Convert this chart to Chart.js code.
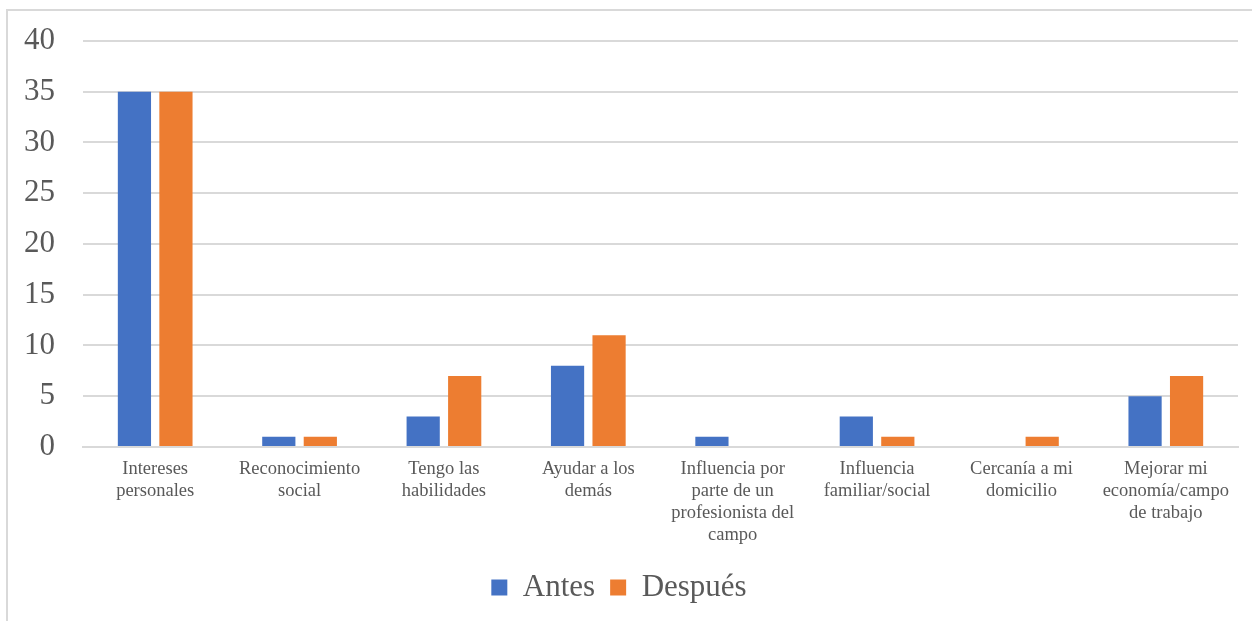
<!DOCTYPE html>
<html>
<head>
<meta charset="utf-8">
<script src="https://cdn.jsdelivr.net/npm/chart.js@4/dist/chart.umd.min.js"></script>
<style>
  html, body { margin: 0; padding: 0; background: #fff; }
  #wrap { position: relative; width: 1252px; height: 621px; overflow: hidden; }
  #frame { position: absolute; left: 6px; top: 9px; width: 1300px; height: 700px;
           border-left: 2px solid #d9d9d9; border-top: 2px solid #d9d9d9; }
  #c { position: absolute; left: 0; top: 0; }
</style>
</head>
<body>
<div id="wrap">
  <div id="frame"></div>
  <canvas id="c" width="1252" height="621"></canvas>
</div>
<script>
const categories = [
  ["Intereses", "personales"],
  ["Reconocimiento", "social"],
  ["Tengo las", "habilidades"],
  ["Ayudar a los", "demás"],
  ["Influencia por", "parte de un", "profesionista del", "campo"],
  ["Influencia", "familiar/social"],
  ["Cercanía a mi", "domicilio"],
  ["Mejorar mi", "economía/campo", "de trabajo"],
];
const antes = [35, 1, 3, 8, 1, 3, 0, 5];
const despues = [35, 1, 7, 11, 0, 1, 1, 7];

const serif = "'Times New Roman', 'Liberation Serif', serif";
const textColor = "#595959";
const gridColor = "#d9d9d9";

new Chart(document.getElementById("c"), {
  type: "bar",
  data: {
    labels: categories,
    datasets: [
      { label: "Antes", data: antes, backgroundColor: "#4472C4" },
      { label: "Después", data: despues, backgroundColor: "#ED7D31" },
    ],
  },
  options: {
    responsive: false,
    animation: false,
    devicePixelRatio: 1,
    categoryPercentage: 0.575,
    barPercentage: 0.8,
    layout: { padding: { left: 0, top: 41, right: 14, bottom: 8 } },
    plugins: {
      tooltip: { enabled: false },
      legend: {
        position: "bottom",
        labels: {
          color: textColor,
          font: { family: serif, size: 31, lineHeight: 1.2 },
          boxWidth: 16,
          boxHeight: 16,
          padding: 15,
        },
      },
    },
    scales: {
      x: {
        grid: { display: false, drawTicks: false },
        border: { color: gridColor, width: 2 },
        ticks: {
          color: textColor,
          font: { family: serif, size: 18.5, lineHeight: 1.19 },
          padding: 11,
          maxRotation: 0,
          autoSkip: false,
        },
      },
      y: {
        min: 0,
        max: 40,
        afterFit: (s) => { s.width = 83; },
        grid: { color: gridColor, lineWidth: 2, drawTicks: false },
        border: { display: false },
        ticks: {
          stepSize: 5,
          color: textColor,
          font: { family: serif, size: 31, lineHeight: 0.5 },
          padding: 28,
        },
      },
    },
  },
});
</script>
</body>
</html>
